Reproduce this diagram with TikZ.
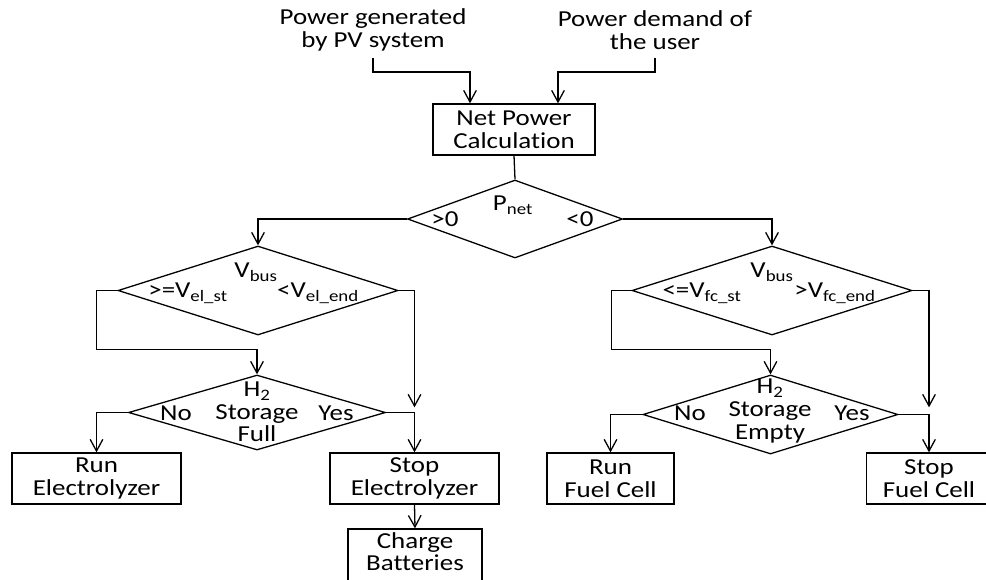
\documentclass[tikz,border=0pt]{standalone}
\usepackage{fontspec}
\setmainfont{Carlito}[FakeStretch=1.18,Ligatures=CommonOff]
\usetikzlibrary{arrows.meta,shapes.geometric,calc}
\begin{document}
\begin{tikzpicture}[x=0.03cm,y=-0.03cm,
  line width=1.1pt,
  >={Straight Barb[length=0.35cm,width=0.38cm]},
  every node/.style={font=\fontsize{19.5pt}{19.3pt}\selectfont, inner sep=0pt},
  txt/.style={align=center},
  box/.style={draw, rectangle, align=center},
  dia/.style={draw, diamond, inner sep=0pt}
]
\useasboundingbox (0,0) rectangle (986,579);
\clip (0,0) rectangle (986,579);

% inputs
\node[txt] (pv) at (373,30) {Power generated\\by PV system};
\node[txt] (ud) at (655,30) {Power demand of\\the user};
\coordinate (pvend) at (373,58);
\coordinate (udend) at (655,58);

% boxes
\node[box, minimum width=162*0.03cm, minimum height=51*0.03cm] (net) at (514,129.5) {Net Power\\Calculation};
\node[box, minimum width=169*0.03cm, minimum height=51*0.03cm] (re) at (96.5,478.5) {Run\\Electrolyzer};
\node[box, minimum width=169*0.03cm, minimum height=51*0.03cm] (se) at (414.5,478.5) {Stop\\Electrolyzer};
\node[box, minimum width=134*0.03cm, minimum height=58*0.03cm] (cb) at (415,558) {};
\node[txt] (cbt) at (415,551.5) {Charge\\Batteries};
\node[box, minimum width=127*0.03cm, minimum height=51*0.03cm] (rf) at (610.5,478.5) {Run\\Fuel Cell};
\node[box, minimum width=125*0.03cm, minimum height=51*0.03cm] (sf) at (929,478.5) {Stop\\Fuel Cell};

% diamonds
\node[dia, minimum width=215*0.03cm, minimum height=78*0.03cm] (pnet) at (515,219) {};
\node[dia, minimum width=280*0.03cm, minimum height=89*0.03cm] (vl) at (258,290.5) {};
\node[dia, minimum width=280*0.03cm, minimum height=89*0.03cm] (vr) at (772,290.5) {};
\node[dia, minimum width=257*0.03cm, minimum height=75*0.03cm] (hl) at (257,412.5) {};
\node[dia, minimum width=255*0.03cm, minimum height=79*0.03cm] (hr) at (770.5,414.5) {};

% diamond labels
\node[txt] (pnett) at (513,205) {P\textsubscript{net}};
\node[txt] (pgt) at (445,219) {>0};
\node[txt] (plt) at (580,219) {<0};
\node[txt] (vlt) at (256,272) {V\textsubscript{bus}};
\node[txt] (vla) at (188,293) {>=V\textsubscript{el\_st}};
\node[txt] (vlb) at (318,293) {<V\textsubscript{el\_end}};
\node[txt] (vrt) at (772,272) {V\textsubscript{bus}};
\node[txt] (vra) at (702,293) {<=V\textsubscript{fc\_st}};
\node[txt] (vrb) at (835,293) {>V\textsubscript{fc\_end}};
\node[txt] (hlt) at (257,412) {H\textsubscript{2}\\Storage\\Full};
\node[txt] (hlno) at (176,413) {No};
\node[txt] (hlyes) at (336,413) {Yes};
\node[txt] (hrt) at (770,411) {H\textsubscript{2}\\Storage\\Empty};
\node[txt] (hrno) at (690,413) {No};
\node[txt] (hryes) at (852,413) {Yes};

% connectors
\draw[->] (pvend) -- ++(0,14) -| ($(net.north)+(-44,0)$);
\draw[->] (udend) -- ++(0,14) -| ($(net.north)+(44,0)$);
\draw (net.south) -- (pnet.north);
\draw[->] (pnet.west) -| (vl.north);
\draw[->] (pnet.east) -| (vr.north);

\draw[->] (vl.west) -- ++(-21,0) |- ($(hl.north)+(0,-25)$) -- (hl.north);
\draw[->] (vl.east) -| ($(se.north)+(0,-45)$);
\draw[->] (hl.east) -| (se.north);
\draw[->] (hl.west) -| (re.north);
\draw[->] (se.south) -- (cb.north);

\draw[->] (vr.west) -- ++(-20,0) |- ($(hr.north)+(0,-25)$) -- (hr.north);
\draw[->] (vr.east) -| ($(sf.north)+(0,-45)$);
\draw[->] (hr.east) -| (sf.north);
\draw[->] (hr.west) -| (rf.north);
\end{tikzpicture}
\end{document}
